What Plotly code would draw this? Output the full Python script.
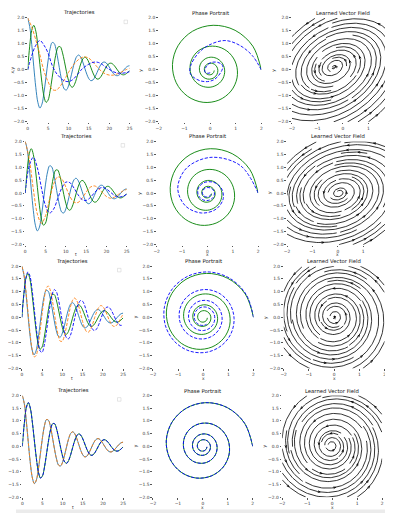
import numpy as np
import plotly.graph_objects as go
import plotly.figure_factory as ff

# ---------------- data ----------------
t_true = [0.0, 0.5, 1.0, 1.5, 2.0, 2.5, 3.0, 3.5, 4.0, 4.5, 5.0, 5.5, 6.0, 6.5, 7.0, 7.5,
          8.0, 8.5, 9.0, 9.5, 10.0, 10.5, 11.0, 11.5, 12.0, 12.5, 13.0, 13.5, 14.0, 14.5,
          15.0, 15.5, 16.0, 16.5, 17.0, 17.5, 18.0, 18.5, 19.0, 19.5, 20.0, 20.5, 21.0,
          21.5, 22.0, 22.5, 23.0, 23.5, 24.0, 24.5, 25.0]
true_x = [2.000, 1.670, 0.978, 0.122, -0.681, -1.248, -1.467, -1.320, -0.876, -0.269,
          0.344, 0.818, 1.054, 1.020, 0.749, 0.327, -0.131, -0.515, -0.741, -0.771,
          -0.617, -0.333, 0.003, 0.306, 0.508, 0.572, 0.495, 0.308, 0.067, -0.166,
          -0.339, -0.415, -0.387, -0.270, -0.101, 0.076, 0.218, 0.295, 0.296, 0.226,
          0.110, -0.020, -0.134, -0.205, -0.222, -0.184, -0.107, -0.012, 0.077, 0.139, 0.163]
true_y = [0.000, 0.912, 1.523, 1.717, 1.489, 0.932, 0.209, -0.494, -1.015, -1.247,
          -1.163, -0.814, -0.307, 0.225, 0.653, 0.886, 0.889, 0.683, 0.335, -0.058,
          -0.400, -0.616, -0.666, -0.554, -0.323, -0.038, 0.229, 0.417, 0.489, 0.439,
          0.290, 0.088, -0.116, -0.273, -0.351, -0.339, -0.248, -0.108, 0.045, 0.172,
          0.247, 0.257, 0.205, 0.110, -0.002, -0.103, -0.170, -0.190, -0.164, -0.102, -0.022]

t_coarse = [0, 1, 2, 3, 4, 5, 6, 7, 8, 9, 10, 11, 12, 13, 14, 15, 16, 17, 18, 19, 20,
            21, 22, 23, 24, 25]
pred1_x = [2.00, 1.65, 1.15, 0.58, -0.05, -0.45, -0.75, -0.78, -0.62, -0.38, -0.10, 0.15,
           0.33, 0.46, 0.50, 0.45, 0.30, 0.12, -0.04, -0.15, -0.20, -0.20, -0.15, -0.08,
           0.00, 0.06]
pred1_y = [0.00, 0.55, 0.95, 1.13, 0.95, 0.65, 0.18, -0.12, -0.30, -0.42, -0.45, -0.38,
           -0.22, -0.02, 0.12, 0.22, 0.29, 0.30, 0.24, 0.12, 0.02, -0.07, -0.12, -0.13,
           -0.11, -0.07]
pred2_x = [2.000, 1.297, 0.140, -0.819, -1.169, -0.874, -0.240, 0.348, 0.624, 0.545,
           0.228, -0.131, -0.353, -0.365, -0.205, 0.033, 0.222, 0.276, 0.187, 0.018,
           -0.135, -0.201, -0.160, -0.045, 0.075, 0.142]
pred2_y = [0.000, 1.066, 1.382, 0.971, 0.193, -0.492, -0.773, -0.620, -0.214, 0.194,
           0.421, 0.401, 0.193, -0.065, -0.250, -0.286, -0.178, 0.003, 0.158, 0.213,
           0.156, 0.031, -0.093, -0.153, -0.130, -0.047]
pred3_x = [2.000, 1.709, 1.064, 0.233, -0.589, -1.223, -1.543, -1.502, -1.135, -0.546,
           0.120, 0.712, 1.105, 1.227, 1.072, 0.693, 0.190, -0.319, -0.721, -0.936,
           -0.930, -0.722, -0.370, 0.037, 0.407, 0.661, 0.752, 0.671, 0.449, 0.145,
           -0.169, -0.423, -0.566, -0.575, -0.457, -0.248, 0.001, 0.231, 0.394, 0.459,
           0.419, 0.290, 0.107, -0.087, -0.247, -0.342, -0.355, -0.289, -0.165, -0.013, 0.130]
pred3_y = [0.000, 0.890, 1.520, 1.772, 1.617, 1.120, 0.413, -0.333, -0.953, -1.319,
           -1.369, -1.116, -0.637, -0.053, 0.500, 0.904, 1.081, 1.008, 0.720, 0.294,
           -0.165, -0.554, -0.795, -0.843, -0.704, -0.420, -0.065, 0.279, 0.537, 0.658,
           0.627, 0.461, 0.205, -0.076, -0.321, -0.478, -0.519, -0.443, -0.275, -0.060,
           0.153, 0.317, 0.400, 0.389, 0.294, 0.141, -0.032, -0.185, -0.287, -0.318, -0.278]
# last iteration: prediction sits on top of the true trajectory
pred4_x = list(true_x)
pred4_y = list(true_y)

# learned vector field, sampled on a coarse grid (rows: y=-2,0,2; cols: x=-2,0,2)
field_axis = [-2.0, 0.0, 2.0]
field1_u = [[2.299, 2.724, 3.149], [-0.201, 0.224, 0.649], [-2.701, -2.276, -1.851]]
field1_v = [[-0.574, 1.182, 2.938], [-1.399, 0.357, 2.113], [-2.224, -0.468, 1.288]]
field2_u = [[2.462, 2.662, 2.862], [-0.205, -0.005, 0.195], [-2.872, -2.672, -2.472]]
field2_v = [[-0.999, 0.561, 2.121], [-1.599, -0.039, 1.521], [-2.199, -0.639, 0.921]]
field3_u = [[2.182, 2.022, 1.862], [0.182, 0.022, -0.138], [-1.818, -1.978, -2.138]]
field3_v = [[-1.858, 0.142, 2.142], [-2.018, -0.018, 1.982], [-2.178, -0.178, 1.822]]
field4_u = [[2.227, 2.027, 1.827], [0.227, 0.027, -0.173], [-1.773, -1.973, -2.173]]
field4_v = [[-1.767, 0.233, 2.233], [-1.967, 0.033, 2.033], [-2.167, -0.167, 1.833]]

titles = ["Trajectories", "Phase Portrait", "Learned Vector Field"]
y_tickvals = [2.0, 1.5, 1.0, 0.5, 0.0, -0.5, -1.0, -1.5, -2.0]
y_ticktext = ["2.0", "1.5", "1.0", "0.5", "0.0", "\u22120.5", "\u22121.0", "\u22121.5", "\u22122.0"]
t_tickvals = [0, 5, 10, 15, 20, 25]
t_ticktext = ["0", "5", "10", "15", "20", "25"]
xy_tickvals = [-2, -1, 0, 1, 2]
xy_ticktext = ["\u22122", "\u22121", "0", "1", "2"]

rows_data = [
    (t_coarse, pred1_x, pred1_y, field1_u, field1_v),
    (t_coarse, pred2_x, pred2_y, field2_u, field2_v),
    (t_true, pred3_x, pred3_y, field3_u, field3_v),
    (t_true, pred4_x, pred4_y, field4_u, field4_v),
]

# ---------------- layout geometry (page pixels) ----------------
PAGE_W, PAGE_H = 393, 516
OFF = 8  # default body margin of the html page
W, H = PAGE_W - OFF, PAGE_H - OFF
FONT = "DejaVu Sans"
rows_px = [
    (16.0, 121.0, [(20.0, 125.0), (155.0, 260.5), (292.0, 397.0)]),
    (140.7, 245.0, [(17.5, 122.0), (152.8, 257.3), (287.0, 391.5)]),
    (266.7, 370.0, [(14.0, 118.3), (149.0, 252.5), (283.5, 387.5)]),
    (397.3, 500.0, [(14.5, 118.3), (149.0, 251.7), (282.0, 385.0)]),
]

C_TX, C_TY, C_PX, C_PY = "#1f77b4", "#008000", "#ff7f0e", "#0000ff"
LW = 0.9
DASH = "3.2px,1.6px"

fig = go.Figure()
layout = dict(width=W, height=H, margin=dict(l=0, r=0, t=0, b=0), autosize=False,
              paper_bgcolor="white", plot_bgcolor="white", showlegend=False,
              font=dict(family=FONT, color="#222"))
annotations = []
shapes = []

def px_x(p):
    return (p - OFF) / W

def px_y(p):
    return 1 - (p - OFF) / H

for r, (top, bottom, cols) in enumerate(rows_px):
    t_pred, px_, py_, fu, fv = rows_data[r]
    for c, (left, right) in enumerate(cols):
        n = r * 3 + c + 1
        lo, hi = (0.0, 25.0) if c == 0 else (-2.0, 2.0)
        rr = right
        if right > PAGE_W:
            hi = lo + (hi - lo) * (PAGE_W - left) / (right - left)
            rr = PAGE_W
        xa = "xaxis" if n == 1 else f"xaxis{n}"
        ya = "yaxis" if n == 1 else f"yaxis{n}"
        xref = "x" if n == 1 else f"x{n}"
        yref = "y" if n == 1 else f"y{n}"
        common = dict(showgrid=False, zeroline=False, showline=False, ticks="outside",
                      ticklen=1.6, tickwidth=0.5, tickcolor="#555",
                      tickfont=dict(size=4.4, family=FONT, color="#333"), fixedrange=True)
        layout[xa] = dict(domain=[px_x(left), px_x(rr)], range=[lo, hi], anchor=yref,
                          tickmode="array",
                          tickvals=t_tickvals if c == 0 else xy_tickvals,
                          ticktext=t_ticktext if c == 0 else xy_ticktext, **common)
        layout[ya] = dict(domain=[px_y(bottom), px_y(top)], range=[-2, 2], anchor=xref,
                          tickmode="array", tickvals=y_tickvals, ticktext=y_ticktext, **common)

        if c == 0:
            fig.add_trace(go.Scatter(x=t_true, y=true_x, mode="lines", xaxis=xref, yaxis=yref,
                                     line=dict(color=C_TX, width=LW, shape="spline"), hoverinfo="skip"))
            fig.add_trace(go.Scatter(x=t_true, y=true_y, mode="lines", xaxis=xref, yaxis=yref,
                                     line=dict(color=C_TY, width=LW, shape="spline"), hoverinfo="skip"))
            fig.add_trace(go.Scatter(x=t_pred, y=px_, mode="lines", xaxis=xref, yaxis=yref,
                                     line=dict(color=C_PX, width=LW, dash=DASH, shape="spline"),
                                     hoverinfo="skip"))
            fig.add_trace(go.Scatter(x=t_pred, y=py_, mode="lines", xaxis=xref, yaxis=yref,
                                     line=dict(color=C_PY, width=LW, dash=DASH, shape="spline"),
                                     hoverinfo="skip"))
            # empty legend box
            cx, cy = right - 4.0, top + 4.0
            shapes.append(dict(type="rect", xref="paper", yref="paper",
                               x0=px_x(cx - 1.8), x1=px_x(cx + 1.8),
                               y0=px_y(cy + 1.8), y1=px_y(cy - 1.8),
                               line=dict(color="#d4d4d4", width=0.6), fillcolor="white"))
        elif c == 1:
            fig.add_trace(go.Scatter(x=true_x, y=true_y, mode="lines", xaxis=xref, yaxis=yref,
                                     line=dict(color=C_TY, width=LW, shape="spline"), hoverinfo="skip"))
            fig.add_trace(go.Scatter(x=px_, y=py_, mode="lines", xaxis=xref, yaxis=yref,
                                     line=dict(color=C_PY, width=LW, dash=DASH, shape="spline"),
                                     hoverinfo="skip"))
        else:
            sf = ff.create_streamline(field_axis, field_axis, np.array(fu), np.array(fv),
                                      density=1.5, arrow_scale=0.1, angle=np.pi / 9)
            fig.add_trace(go.Scatter(x=list(sf.data[0].x), y=list(sf.data[0].y), mode="lines",
                                     xaxis=xref, yaxis=yref,
                                     line=dict(color="black", width=0.8), hoverinfo="skip"))

        mid = (left + right) / 2
        annotations.append(dict(text=titles[c], x=px_x(mid), y=px_y(top - 5.0), xref="paper",
                                yref="paper", showarrow=False, xanchor="center", yanchor="middle",
                                font=dict(size=5.3, family=FONT, color="#111")))
        if r > 0:
            annotations.append(dict(text="t" if c == 0 else "x", x=px_x(mid), y=px_y(bottom + 10.0),
                                    xref="paper", yref="paper", showarrow=False, xanchor="center",
                                    yanchor="middle", font=dict(size=4.4, family=FONT, color="#333")))
        if c > 0 or r == 0:
            annotations.append(dict(text="x,y" if c == 0 else "y",
                                    x=px_x(left - (15.5 if c == 0 else 18.5)),
                                    y=px_y((top + bottom) / 2), xref="paper", yref="paper",
                                    showarrow=False, textangle=-90, xanchor="center",
                                    yanchor="middle",
                                    font=dict(size=4.4, family=FONT, color="#333")))

# grey strip at the bottom of the page
shapes.append(dict(type="rect", xref="paper", yref="paper", x0=0, x1=1,
                   y0=0, y1=(PAGE_H - 512.5) / H,
                   line=dict(width=0), fillcolor="#ebebeb", layer="above"))

layout["annotations"] = annotations
layout["shapes"] = shapes
fig.update_layout(**layout)
fig.write_html("out.html", config={"displayModeBar": False})
